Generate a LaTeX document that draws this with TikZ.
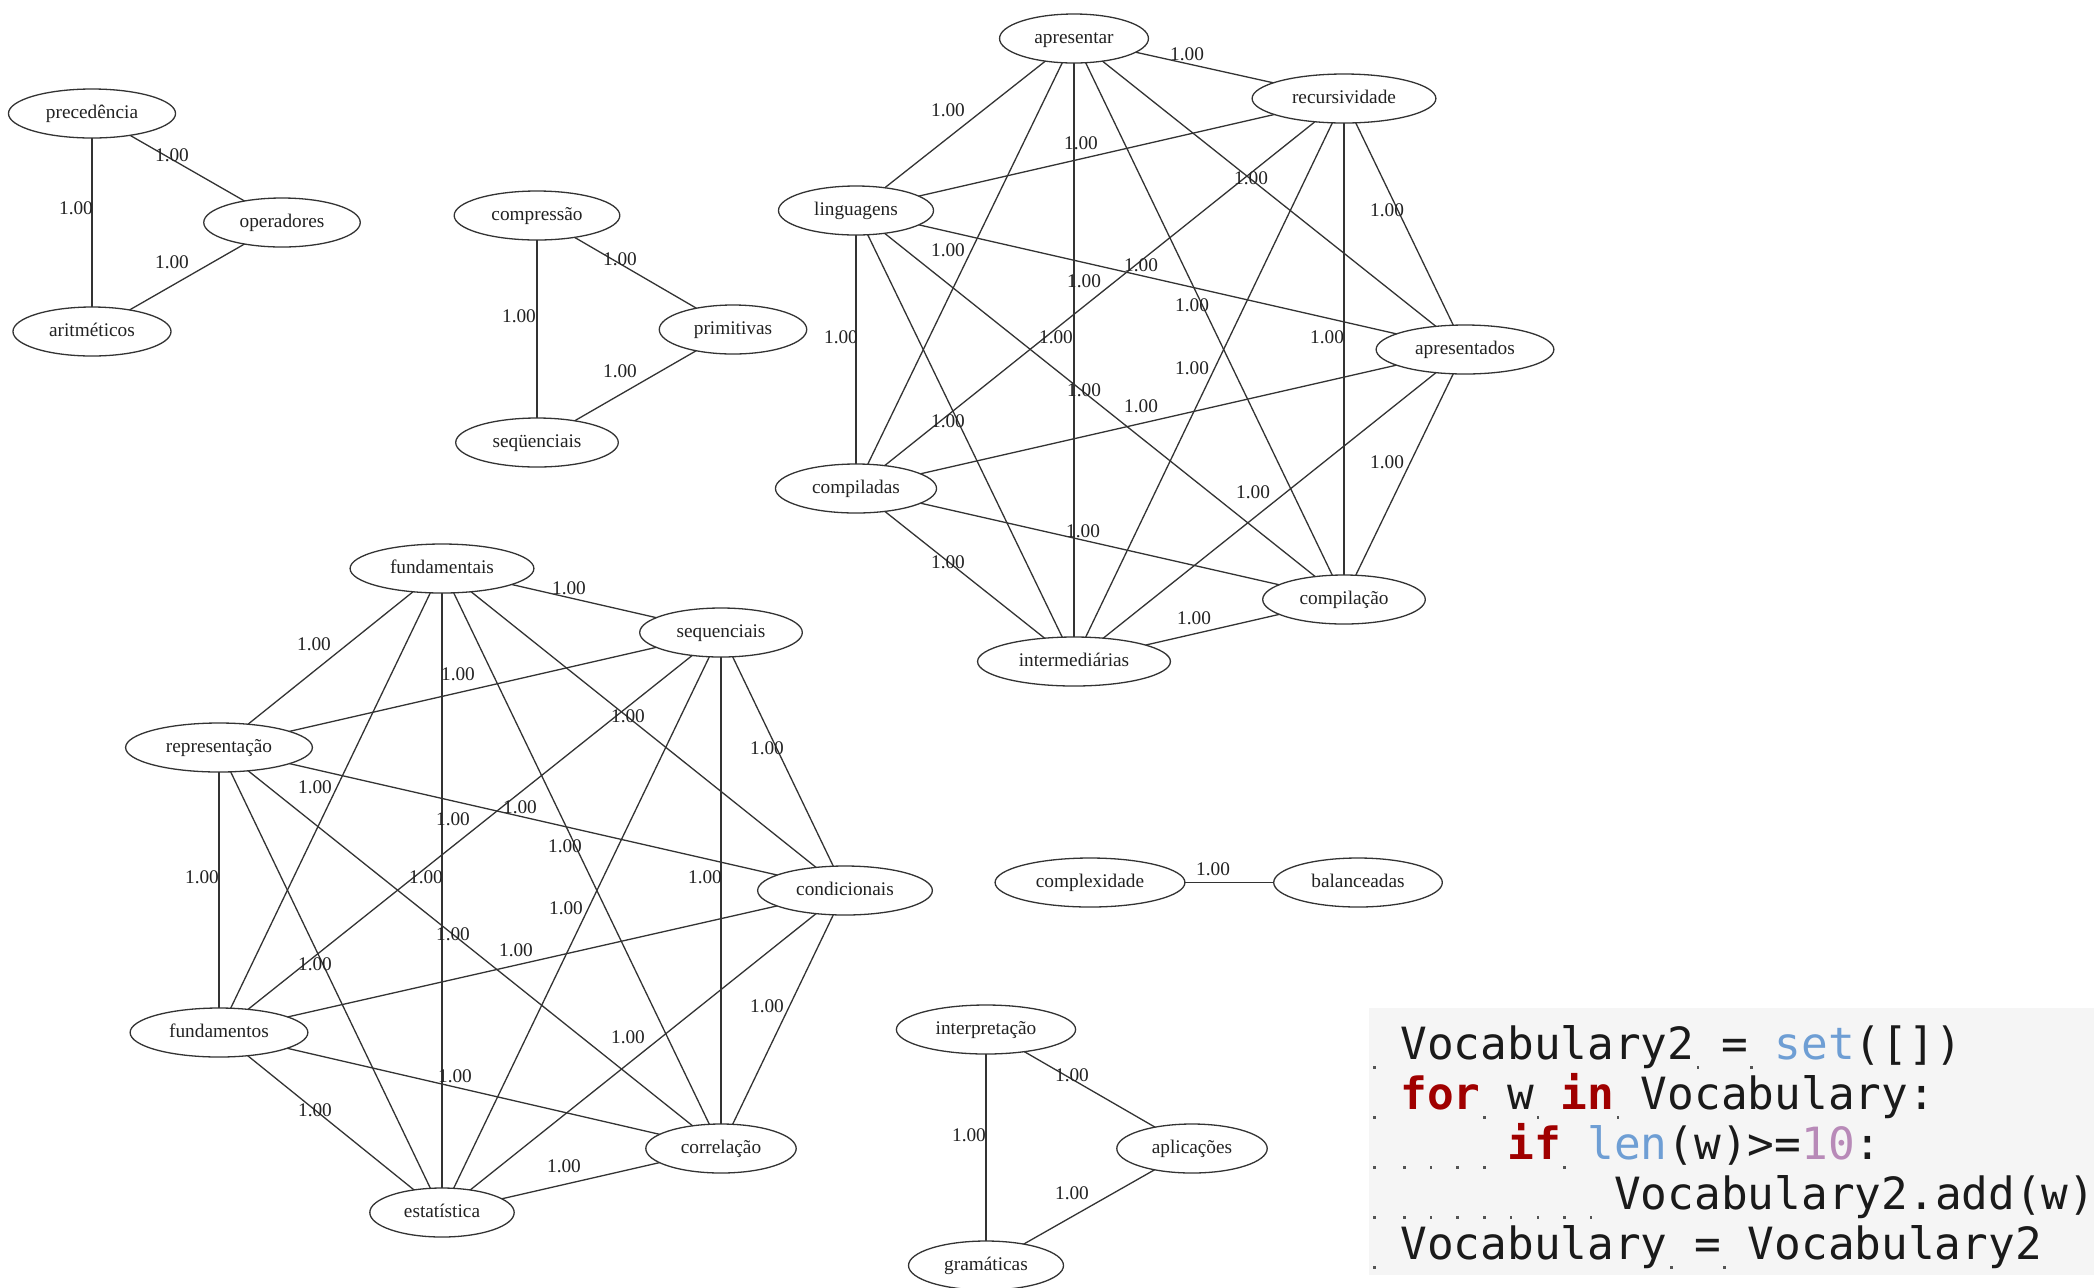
\documentclass[tikz,border=0pt]{standalone}
\usepackage{fontspec}
\setmainfont{Liberation Serif}
\newfontfamily\codefont{DejaVu Sans Mono}
\usetikzlibrary{shapes.geometric}
\definecolor{edgecol}{HTML}{333333}
\definecolor{txtcol}{HTML}{222222}
\definecolor{codebg}{HTML}{F5F5F5}
\definecolor{kwred}{HTML}{A00000}
\definecolor{bltn}{HTML}{6E9ED4}
\definecolor{numpur}{HTML}{B88AB8}
\definecolor{codetxt}{HTML}{1A1A1A}
\definecolor{wsdot}{HTML}{555555}
\tikzset{
  gnode/.style={draw=edgecol, line width=0.65pt, ellipse, inner xsep=6.5pt, inner ysep=1pt,
    minimum height=24.5pt, outer sep=0pt, font=\fontsize{9.65pt}{11pt}\selectfont,
    text=txtcol, text height=6.6pt, text depth=2.1pt, yshift=-1.25pt},
  gedge/.style={draw=edgecol, line width=0.65pt},
  wlbl/.style={font=\fontsize{9.65pt}{11pt}\selectfont, text=txtcol, inner sep=0pt},
  codeln/.style={anchor=base west, inner sep=0pt, font=\codefont\fontsize{22.2pt}{26pt}\selectfont, text=codetxt},
}
\newcommand{\kw}[1]{{\color{kwred}\bfseries #1}}
\begin{document}
\begin{tikzpicture}[x=0.5pt, y=-0.5pt]
\useasboundingbox (0,0) rectangle (2094,1287);
\fill[white] (0,0) rectangle (2094,1287);

% ---- group 1
\node[gnode] (prec) at (92,111) {precedência};
\node[gnode] (oper) at (282,220) {operadores};
\node[gnode] (arit) at (92,329) {aritméticos};
\foreach \a/\b in {prec/oper, prec/arit, oper/arit} \draw[gedge] (\a) -- (\b);
\node[wlbl] (l1a) at (172,155) {1.00};
\node[wlbl] (l1b) at (76,208) {1.00};
\node[wlbl] (l1c) at (172,262) {1.00};

% ---- group 2
\node[gnode] (compr) at (537,213) {compressão};
\node[gnode] (prim) at (733,327) {primitivas};
\node[gnode] (seqq) at (537,440) {seqüenciais};
\foreach \a/\b in {compr/prim, compr/seqq, prim/seqq} \draw[gedge] (\a) -- (\b);
\node[wlbl] (l2a) at (620,259) {1.00};
\node[wlbl] (l2b) at (519,316) {1.00};
\node[wlbl] (l2c) at (620,371) {1.00};

% ---- group 3
\node[gnode] (A) at (1074,36) {apresentar};
\node[gnode] (R) at (1344,96) {recursividade};
\node[gnode] (L) at (856,208) {linguagens};
\node[gnode] (D) at (1465,347) {apresentados};
\node[gnode] (P) at (856,486) {compiladas};
\node[gnode] (C) at (1344,597) {compilação};
\node[gnode] (I) at (1074,659) {intermediárias};
\foreach \a/\b in {A/R, A/L, A/D, A/P, A/C, A/I, R/L, R/D, R/P, R/C, R/I, L/D, L/P, L/C, L/I, D/P, D/C, D/I, P/C, P/I, C/I}
  \draw[gedge] (\a) -- (\b);
\foreach \x/\y [count=\k] in {1187/54, 948/110, 1081/143, 1251/178, 1387/210, 948/250, 1141/265, 1084/281, 1192/305, 841/337, 1056/337, 1327/337, 1192/368, 1084/390, 1141/406, 948/421, 1387/462, 1253/492, 1083/531, 948/562, 1194/618}
  \node[wlbl] (l3-\k) at (\x,\y) {1.00};

% ---- group 4
\node[gnode] (fa) at (442,566) {fundamentais};
\node[gnode] (sq) at (721,630) {sequenciais};
\node[gnode] (rp) at (219,745) {representação};
\node[gnode] (cd) at (845,888) {condicionais};
\node[gnode] (fo) at (219,1030) {fundamentos};
\node[gnode] (co) at (721,1146) {correlação};
\node[gnode] (es) at (442,1210) {estatística};
\foreach \a/\b in {fa/sq, fa/rp, fa/cd, fa/fo, fa/co, fa/es, sq/rp, sq/cd, sq/fo, sq/co, sq/es, rp/cd, rp/fo, rp/co, rp/es, cd/fo, cd/co, cd/es, fo/co, fo/es, co/es}
  \draw[gedge] (\a) -- (\b);
\foreach \x/\y [count=\k] in {569/588, 314/644, 458/674, 628/716, 767/748, 315/787, 520/807, 453/819, 565/846, 202/877, 426/877, 705/877, 566/908, 453/934, 516/950, 315/964, 767/1006, 628/1037, 455/1076, 315/1110, 564/1166}
  \node[wlbl] (l4-\k) at (\x,\y) {1.00};

% ---- group 5
\node[gnode] (cx) at (1090,880) {complexidade};
\node[gnode] (bal) at (1358,880) {balanceadas};
\draw[gedge] (cx) -- (bal);
\node[wlbl] (l5a) at (1213,869) {1.00};

% ---- group 6
\node[gnode] (itp) at (986,1027) {interpretação};
\node[gnode] (apl) at (1192,1146) {aplicações};
\node[gnode] (gra) at (986,1263) {gramáticas};
\foreach \a/\b in {itp/apl, itp/gra, apl/gra} \draw[gedge] (\a) -- (\b);
\node[wlbl] (l6a) at (1072,1075) {1.00};
\node[wlbl] (l6b) at (969,1135) {1.00};
\node[wlbl] (l6c) at (1072,1193) {1.00};

% ---- code snippet
\fill[codebg] (1369,1008) rectangle (2094,1275);
\node[codeln] (c1) at (1400,1059) {Vocabulary2 = {\color{bltn}set}([])};
\node[codeln] (c2) at (1400,1109) {\kw{for} w \kw{in} Vocabulary:};
\node[codeln] (c3) at (1400,1159) {\phantom{0000}\kw{if} {\color{bltn}len}(w)>={\color{numpur}10}:};
\node[codeln] (c4) at (1400,1209) {\phantom{00000000}Vocabulary2.add(w)};
\node[codeln] (c5) at (1400,1259) {Vocabulary = Vocabulary2};
% whitespace markers
\foreach \b/\list in {1059/{11,13}, 1109/{3,5,8}, 1159/{0,1,2,3,6}, 1209/{0,1,2,3,4,5,6,7}, 1259/{10,12}} {
  \fill[wsdot] (1373,\b+7) rectangle ++(2.5,2.5);
  \foreach \s in \list
    \fill[wsdot] (1403+\s*26.7,\b+7) rectangle ++(2.5,2.5);
}
\end{tikzpicture}
\end{document}
